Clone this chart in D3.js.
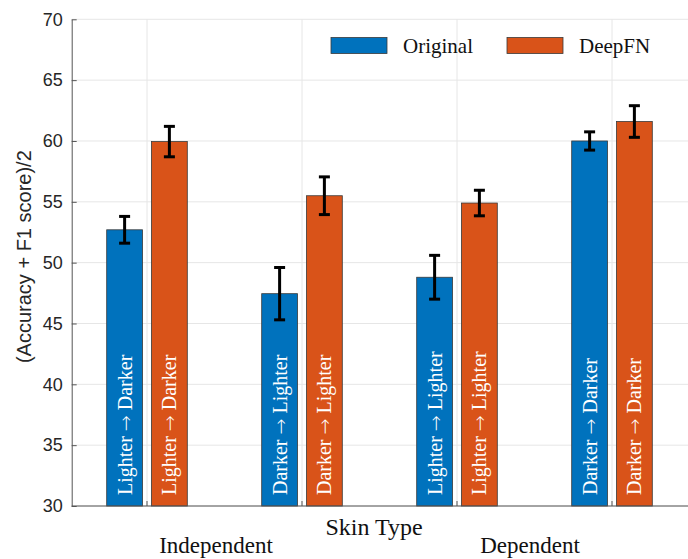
<!DOCTYPE html>
<html>
<head>
<meta charset="utf-8">
<script src="https://cdn.jsdelivr.net/npm/d3@7"></script>
<style>
  html, body { margin: 0; padding: 0; background: #fff; }
  svg { display: block; }
</style>
</head>
<body>
<svg id="chart" width="688" height="559"></svg>
<script>
// Groups along the x axis (bar positions 1..4)
const groups = [1, 2, 3, 4];
const series = ["Original", "DeepFN"];
const colors = ["#0072BD", "#D95319"];

// Mean (Accuracy + F1)/2 and error half-widths per group
const originalMean = [52.7, 47.45, 48.8, 60.0];
const originalErr  = [1.1, 2.15, 1.8, 0.75];
const deepfnMean   = [59.95, 55.5, 54.9, 61.6];
const deepfnErr    = [1.25, 1.55, 1.05, 1.3];

// Transfer direction (source, target) written inside each bar pair
const sourceSkin = ["Lighter", "Darker", "Lighter", "Darker"];
const targetSkin = ["Darker", "Lighter", "Lighter", "Darker"];

const yTicks = [30, 35, 40, 45, 50, 55, 60, 65, 70];
const categoryLabels = ["Independent", "Dependent"];

const svg = d3.select("#chart");

const plotLeft = 71.7, plotRight = 688, plotTop = 19.3, plotBottom = 506;
const y = d3.scaleLinear().domain([30, 70]).range([plotBottom, plotTop]);
const x = d3.scaleLinear().domain([1, 4]).range([147, 612]);
const xs = d3.scaleBand().domain(series).range([-40.3, 40.3]).paddingInner(0.2);

const textColor = "#262626";
const sans = "'Liberation Sans', Arial, Helvetica, sans-serif";
const serif = "'Liberation Serif', 'Times New Roman', serif";

// grid
const grid = svg.append("g");
grid.selectAll("line.h").data(yTicks).join("line").attr("class", "h")
  .attr("x1", plotLeft).attr("x2", plotRight)
  .attr("y1", d => y(d)).attr("y2", d => y(d))
  .attr("stroke", "#e6e6e6").attr("stroke-width", 1);
grid.selectAll("line.v").data(groups).join("line").attr("class", "v")
  .attr("x1", d => x(d)).attr("x2", d => x(d))
  .attr("y1", plotTop).attr("y2", plotBottom)
  .attr("stroke", "#e6e6e6").attr("stroke-width", 1);

// rows of data
const rows = [];
groups.forEach((g, i) => {
  rows.push({ g, s: 0, v: originalMean[i], e: originalErr[i], from: sourceSkin[i], to: targetSkin[i] });
  rows.push({ g, s: 1, v: deepfnMean[i], e: deepfnErr[i], from: sourceSkin[i], to: targetSkin[i] });
});
const bx = d => x(d.g) + xs(series[d.s]);
const bw = xs.bandwidth();

// bars
svg.append("g").selectAll("rect").data(rows).join("rect")
  .attr("x", bx).attr("width", bw)
  .attr("y", d => y(d.v)).attr("height", d => y(30) - y(d.v))
  .attr("fill", d => colors[d.s])
  .attr("stroke", "#3a3a3a").attr("stroke-width", 0.8);

// text inside bars
const bt = svg.append("g").selectAll("text").data(rows).join("text")
  .attr("transform", d => `translate(${bx(d) + bw / 2},${y(30) - 11}) rotate(-90)`)
  .attr("dy", "0.35em")
  .attr("text-anchor", "start")
  .attr("fill", "#fff")
  .attr("font-family", serif)
  .attr("font-size", 20);
bt.append("tspan").text(d => d.from + "\u00a0");
bt.append("tspan").attr("font-family", "'DejaVu Sans', sans-serif").attr("font-weight", 300).attr("font-size", 19).text("\u2192");
bt.append("tspan").text(d => "\u00a0" + d.to);

// error bars
const eb = svg.append("g").attr("stroke", "#000").attr("stroke-width", 3);
rows.forEach(d => {
  const cx = bx(d) + bw / 2;
  eb.append("line").attr("x1", cx).attr("x2", cx).attr("y1", y(d.v - d.e)).attr("y2", y(d.v + d.e));
  eb.append("line").attr("x1", cx - 5.5).attr("x2", cx + 5.5).attr("y1", y(d.v - d.e)).attr("y2", y(d.v - d.e));
  eb.append("line").attr("x1", cx - 5.5).attr("x2", cx + 5.5).attr("y1", y(d.v + d.e)).attr("y2", y(d.v + d.e));
});

// y axis
const yAxis = d3.axisLeft(y).tickValues(yTicks).tickSizeInner(-5).tickSizeOuter(0).tickPadding(9);
const ya = svg.append("g").attr("transform", `translate(${plotLeft},0)`).call(yAxis);
ya.select(".domain").attr("stroke", "#555").attr("stroke-width", 1);
ya.selectAll(".tick line").attr("stroke", "#555");
ya.selectAll(".tick text").attr("font-family", sans).attr("font-size", 18).attr("fill", textColor);

// x axis
svg.append("line").attr("x1", plotLeft).attr("x2", plotRight).attr("y1", plotBottom).attr("y2", plotBottom)
  .attr("stroke", "#555").attr("stroke-width", 1);
svg.append("g").selectAll("line").data(groups).join("line")
  .attr("x1", d => x(d)).attr("x2", d => x(d))
  .attr("y1", plotBottom).attr("y2", plotBottom - 5)
  .attr("stroke", "#555");

// axis titles
svg.append("text")
  .attr("transform", `translate(31,${(plotTop + plotBottom) / 2 - 6}) rotate(-90)`)
  .attr("text-anchor", "middle")
  .attr("font-family", sans).attr("font-size", 20).attr("fill", textColor)
  .text("(Accuracy + F1 score)/2");

svg.append("text")
  .attr("x", 374).attr("y", 535)
  .attr("text-anchor", "middle")
  .attr("font-family", serif).attr("font-size", 24).attr("fill", "#111")
  .text("Skin Type");

svg.append("g").selectAll("text").data(categoryLabels).join("text")
  .attr("x", (d, i) => i === 0 ? 216 : 530)
  .attr("y", 553)
  .attr("text-anchor", "middle")
  .attr("font-family", serif).attr("font-size", 23).attr("fill", "#111")
  .text(d => d);

// legend
const lg = svg.append("g");
series.forEach((s, i) => {
  const lx = i === 0 ? 331 : 507;
  lg.append("rect").attr("x", lx).attr("y", 37.5).attr("width", 56).attr("height", 16)
    .attr("fill", colors[i]).attr("stroke", "#3a3a3a").attr("stroke-width", 0.8);
  lg.append("text").attr("x", lx + 72).attr("y", 52.5)
    .attr("font-family", serif).attr("font-size", 21).attr("fill", "#111")
    .text(s);
});
</script>
</body>
</html>
